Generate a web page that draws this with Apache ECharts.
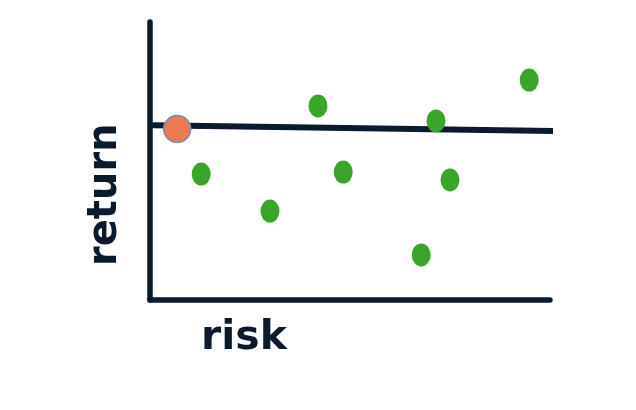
<!DOCTYPE html>
<html>
<head>
<meta charset="utf-8">
<script src="https://cdn.jsdelivr.net/npm/echarts@6/dist/echarts.min.js"></script>
<style>
  html, body { margin: 0; padding: 0; background: #fff; }
  #chart { width: 636px; height: 410px; }
</style>
</head>
<body>
<div id="chart"></div>
<script>
// portfolio sketch: risk vs return
var riskValues = [4.2, 7.15, 9.48, 1.28, 4.83, 7.5, 3.0, 6.78];
var returnValues = [6.98, 6.44, 7.91, 4.53, 4.6, 4.32, 3.2, 1.62];
var baseRisk = [0.68];
var baseReturn = [6.15];
var lineRisk = [0.1, 10.1];
var lineReturn = [6.29, 6.08];

var ink = '#0c1a2e';

function pairs(xs, ys) {
    var out = [];
    for (var i = 0; i < xs.length; i++) {
        out.push([xs[i], ys[i]]);
    }
    return out;
}

var chart = echarts.init(document.getElementById('chart'));
var option = {
    animation: false,
    grid: {
        left: 150,
        right: 86,
        top: 22,
        bottom: 110
    },
    xAxis: {
        type: 'value',
        min: 0,
        max: 10,
        axisLine: {onZero: false, lineStyle: {color: ink, width: 5.5, cap: 'round'}},
        axisTick: {show: false},
        axisLabel: {show: false},
        splitLine: {show: false}
    },
    yAxis: {
        type: 'value',
        min: 0,
        max: 10,
        axisLine: {show: true, onZero: false, lineStyle: {color: ink, width: 5.5, cap: 'round'}},
        axisTick: {show: false},
        axisLabel: {show: false},
        splitLine: {show: false}
    },
    graphic: [
        {
            type: 'text',
            left: 201,
            top: 318,
            style: {
                text: 'risk',
                font: 'bold 41px "DejaVu Sans"',
                fill: ink
            }
        },
        {
            type: 'text',
            x: 86,
            y: 266,
            rotation: Math.PI / 2,
            style: {
                text: 'return',
                font: 'bold 40px "DejaVu Sans"',
                fill: ink
            }
        }
    ],
    series: [
        {
            type: 'line',
            data: pairs(lineRisk, lineReturn),
            symbol: 'none',
            clip: false,
            lineStyle: {color: ink, width: 6, cap: 'round'},
            z: 2
        },
        {
            type: 'scatter',
            data: pairs(riskValues, returnValues),
            symbolSize: [19, 23],
            itemStyle: {color: '#3aa52a', opacity: 1},
            z: 3
        },
        {
            type: 'scatter',
            data: pairs(baseRisk, baseReturn),
            symbolSize: 27,
            itemStyle: {color: '#e97b52', borderColor: '#7d8db0', borderWidth: 1.5, opacity: 1},
            z: 4
        }
    ]
};
chart.setOption(option);
</script>
</body>
</html>
